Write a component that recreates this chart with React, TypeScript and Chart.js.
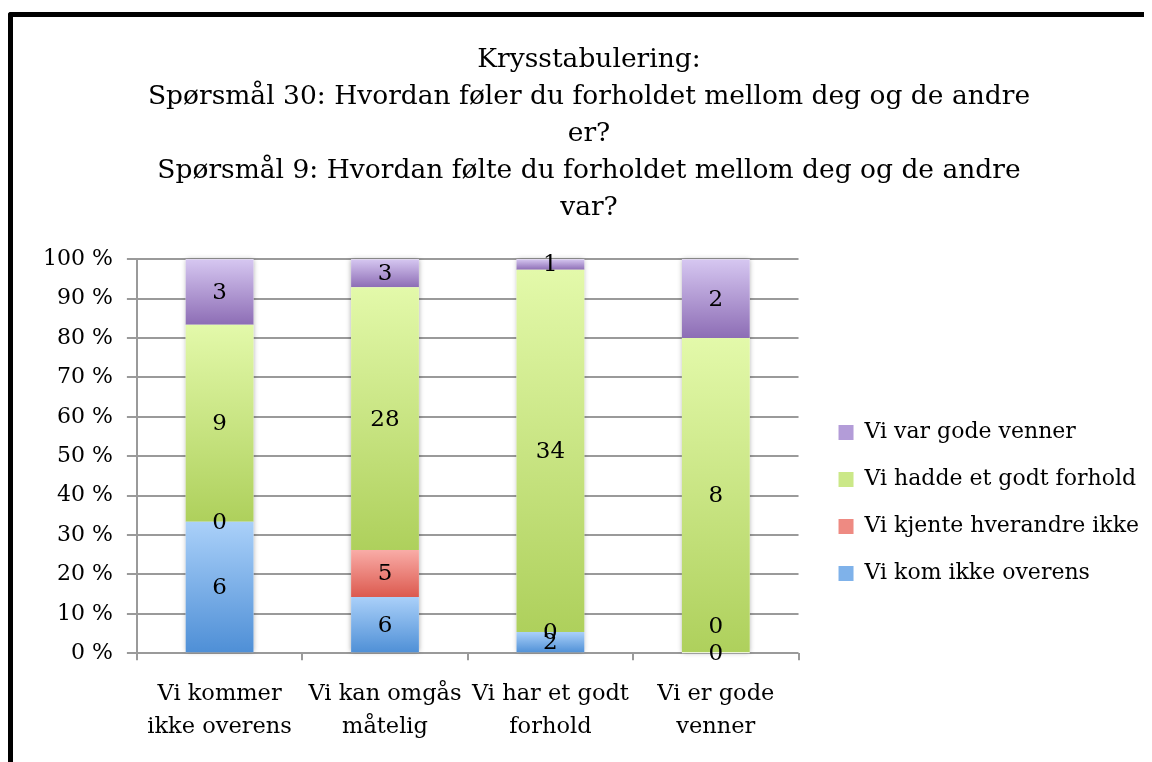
import React, { useEffect, useRef } from "react";
import { Chart, registerables } from "chart.js";

Chart.register(...registerables);

const titleLines = [
  "Krysstabulering:",
  "Spørsmål 30: Hvordan føler du forholdet mellom deg og de andre",
  "er?",
  "Spørsmål 9: Hvordan følte du forholdet mellom deg og de andre",
  "var?",
];

const categories = [
  ["Vi kommer", "ikke overens"],
  ["Vi kan omgås", "måtelig"],
  ["Vi har et godt", "forhold"],
  ["Vi er gode", "venner"],
];

const seriesNames = [
  "Vi kom ikke overens",
  "Vi kjente hverandre ikke",
  "Vi hadde et godt forhold",
  "Vi var gode venner",
];

const komIkkeOverens = [6, 6, 2, 0];
const kjenteIkke = [0, 5, 0, 0];
const goddForhold = [9, 28, 34, 8];
const godeVenner = [3, 3, 1, 2];

const yTicks = [0, 10, 20, 30, 40, 50, 60, 70, 80, 90, 100];

const gradTop = ["#aad0f9", "#f9aca7", "#e3f9aa", "#d6c7f1"];
const gradBottom = ["#4e8fd6", "#dc5a4f", "#aed05c", "#8d6db5"];
const legendColors = ["#7fb2ea", "#ee8a82", "#cbe888", "#b39cd8"];

const FONT = "'DejaVu Serif', serif";

export default function App() {
  const ref = useRef<HTMLCanvasElement>(null);

  useEffect(() => {
    const counts = [komIkkeOverens, kjenteIkke, goddForhold, godeVenner];
    const totals = categories.map((_, i) => counts.reduce((s, arr) => s + arr[i], 0));
    const pct = counts.map((arr) => arr.map((v, i) => (v / totals[i]) * 100));

    const bg = (dsIndex: number) => (c: any) => {
      const chart = c.chart;
      const y = chart.scales && chart.scales.y;
      if (c.type !== "data" || !y || y.top === undefined) return gradBottom[dsIndex];
      const i = c.dataIndex;
      let below = 0;
      for (let k = 0; k < dsIndex; k++) below += pct[k][i];
      const top = below + pct[dsIndex][i];
      const y0 = y.getPixelForValue(top);
      const y1 = y.getPixelForValue(below);
      if (!isFinite(y0) || !isFinite(y1) || Math.abs(y1 - y0) < 0.5) return gradBottom[dsIndex];
      const g = chart.ctx.createLinearGradient(0, y0, 0, y1);
      g.addColorStop(0, gradTop[dsIndex]);
      g.addColorStop(1, gradBottom[dsIndex]);
      return g;
    };

    const shadowPlugin = {
      id: "barShadow",
      beforeDatasetsDraw(chart: any) {
        const ctx = chart.ctx;
        const n = chart.data.datasets.length;
        const first = chart.getDatasetMeta(0).data;
        categories.forEach((_, i) => {
          let top = Infinity;
          let bottom = -Infinity;
          for (let d = 0; d < n; d++) {
            const el: any = chart.getDatasetMeta(d).data[i];
            top = Math.min(top, el.y, el.base);
            bottom = Math.max(bottom, el.y, el.base);
          }
          const el: any = first[i];
          ctx.save();
          ctx.shadowColor = "rgba(0,0,0,0.35)";
          ctx.shadowBlur = 5;
          ctx.fillStyle = "#ffffff";
          ctx.fillRect(el.x - el.width / 2, top, el.width, bottom - top);
          ctx.restore();
        });
      },
    };

    const legendLayout = {
      id: "legendLayout",
      beforeLayout(chart: any) {
        const lg = chart.legend;
        if (lg && !lg.__patched) {
          const orig = lg.fit.bind(lg);
          lg.fit = () => {
            orig();
            lg.width += 15;
          };
          lg.__patched = true;
        }
      },
      afterLayout(chart: any) {
        const lg = chart.legend;
        if (lg) {
          lg.top += 107;
          lg.bottom += 107;
          lg.left += 15;
          lg.right += 15;
        }
      },
    };

    const labelPlugin = {
      id: "segLabels",
      afterDatasetsDraw(chart: any) {
        const ctx = chart.ctx;
        ctx.save();
        ctx.font = `23px ${FONT}`;
        ctx.fillStyle = "#000";
        ctx.textAlign = "center";
        ctx.textBaseline = "middle";
        categories.forEach((_, i) => {
          let prev: number | null = null;
          chart.data.datasets.forEach((ds: any, d: number) => {
            const el: any = chart.getDatasetMeta(d).data[i];
            let y = (el.y + el.base) / 2;
            if (prev !== null && Math.abs(prev - y) < 5) y = prev - 27;
            ctx.fillText(String(counts[d][i]), el.x, y + 1);
            prev = y;
          });
        });
        ctx.restore();
      },
    };

    const chart = new Chart(ref.current!, {
      type: "bar",
      data: {
        labels: categories,
        datasets: seriesNames.map((name, d) => ({
          label: name,
          data: pct[d],
          backgroundColor: bg(d),
          borderWidth: 0,
          categoryPercentage: 1,
          barPercentage: 0.41,
        })),
      },
      options: {
        responsive: false,
        animation: false,
        layout: { padding: { top: 14, right: 16, left: 16, bottom: 1 } },
        plugins: {
          tooltip: { enabled: false },
          title: {
            display: true,
            text: titleLines,
            color: "#000",
            font: { family: FONT, size: 26.5, weight: "normal", lineHeight: 1.39 },
            padding: { top: 11, bottom: 33 },
          },
          legend: {
            position: "right",
            reverse: true,
            maxWidth: 600,
            labels: {
              color: "#000",
              font: { family: FONT, size: 22 },
              boxWidth: 15,
              boxHeight: 15,
              padding: 25,
              generateLabels(chart: any) {
                const items = Chart.defaults.plugins.legend.labels.generateLabels(chart);
                items.forEach((it: any) => {
                  it.fillStyle = legendColors[it.datasetIndex];
                  it.strokeStyle = legendColors[it.datasetIndex];
                  it.lineWidth = 0;
                });
                return items;
              },
            },
          },
        },
        scales: {
          x: {
            stacked: true,
            grid: {
              display: true,
              offset: true,
              drawOnChartArea: false,
              drawTicks: true,
              tickLength: 7,
              color: "#9a9a9a",
              lineWidth: 2,
            },
            border: { display: false },
            ticks: {
              color: "#000",
              font: { family: FONT, size: 22.5, lineHeight: 1.44 },
              padding: 18,
              maxRotation: 0,
            },
          },
          y: {
            stacked: true,
            min: 0,
            max: 100,
            afterBuildTicks(axis: any) {
              axis.ticks = yTicks.map((v) => ({ value: v }));
            },
            grid: {
              color: "#9a9a9a",
              lineWidth: 2,
              tickLength: 10,
            },
            border: { display: true, color: "#9a9a9a", width: 2 },
            ticks: {
              color: "#000",
              font: { family: FONT, size: 22 },
              padding: 14,
              callback: (v: any) => `${v} %`,
            },
          },
        },
      },
      plugins: [shadowPlugin, legendLayout, labelPlugin],
    });
    return () => chart.destroy();
  }, []);

  return (
    <div style={{ position: "relative", width: 1144, height: 754, overflow: "hidden", background: "#fff" }}>
      <div
        style={{
          position: "absolute",
          left: 0,
          top: 4,
          width: 1300,
          height: 900,
          borderTop: "5px solid #000",
          borderLeft: "5px solid #000",
          borderTopLeftRadius: 3,
          boxSizing: "border-box",
        }}
      />
      <canvas
        ref={ref}
        width={1152}
        height={745}
        style={{ position: "absolute", left: 5, top: 9, width: 1152, height: 745 }}
      />
    </div>
  );
}
